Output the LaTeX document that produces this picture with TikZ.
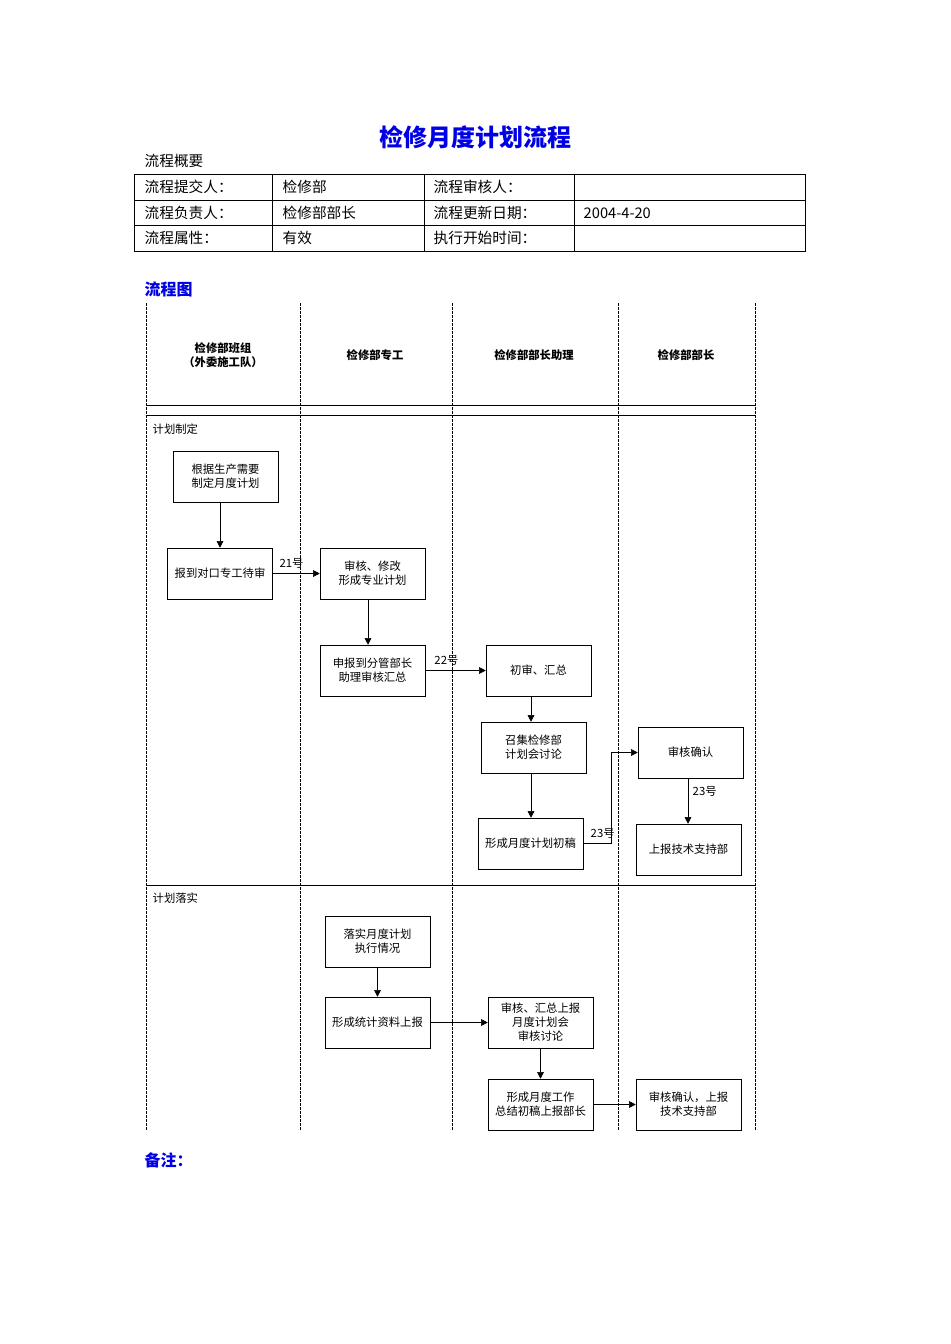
\documentclass[tikz,border=0pt]{standalone}
\usepackage{fontspec}
\setmainfont{Noto Sans CJK SC}
\usetikzlibrary{arrows.meta}
\definecolor{titleblue}{RGB}{0,0,230}
\tikzset{
  box/.style={draw, minimum width=78.75pt, minimum height=38.25pt, inner sep=1pt, align=center, font=\fontsize{8.5}{10.5}\selectfont},
  flow/.style={-{Triangle[length=5pt,width=5pt]}},
  lane/.style={dash pattern=on 2pt off 1pt, line width=0.5pt},
  cell/.style={anchor=west, font=\fontsize{11}{13}\selectfont},
  lbl/.style={font=\fontsize{8.5}{10}\selectfont},
  head/.style={font=\bfseries\fontsize{8.5}{10}\selectfont, align=center}
}
\begin{document}
\begin{tikzpicture}[x=0.75pt,y=-0.75pt]
\useasboundingbox (0,0) rectangle (950,1344);
% title and summary table
\node[titleblue, font=\bfseries\fontsize{18}{20}\selectfont] (title) at (475,137) {检修月度计划流程};
\node[cell] (sum) at (140,161) {流程概要};
\draw (134,174) rectangle (805,251);
\draw (134,200) -- (805,200) (134,225) -- (805,225);
\draw (272,174) -- (272,251) (424,174) -- (424,251) (574,174) -- (574,251);
\node[cell] (t11) at (140,187) {流程提交人：};
\node[cell] (t12) at (278,187) {检修部};
\node[cell] (t13) at (429,187) {流程审核人：};
\node[cell] (t21) at (140,213) {流程负责人：};
\node[cell] (t22) at (278,213) {检修部部长};
\node[cell] (t23) at (429,213) {流程更新日期：};
\node[cell] (t24) at (579,213) {2004-4-20};
\node[cell] (t31) at (140,238) {流程属性：};
\node[cell] (t32) at (278,238) {有效};
\node[cell] (t33) at (429,238) {执行开始时间：};
\node[cell, titleblue, font=\bfseries\fontsize{12}{14}\selectfont] (fig) at (140,289) {流程图};
% swimlanes
\foreach \x in {146,300,452,618,755} \draw[lane] (\x,303) -- (\x,1130);
\draw (146,405) -- (755,405) (146,415) -- (755,415) (146,885) -- (755,885);
\node[head] (h1) at (223,355) {检修部班组\\（外委施工队）};
\node[head] (h2) at (375,355) {检修部专工};
\node[head] (h3) at (534,355) {检修部部长助理};
\node[head] (h4) at (686,355) {检修部部长};
\node[lbl, anchor=west] (p1) at (148,429) {计划制定};
\node[lbl, anchor=west] (p2) at (148,898) {计划落实};
% boxes
\node[box] (b1) at (225.5,476.5) {根据生产需要\\制定月度计划};
\node[box] (b2) at (220,573.5) {报到对口专工待审};
\node[box] (b3) at (372.5,573.5) {审核、修改\\形成专业计划};
\node[box] (b4) at (372.5,670.5) {申报到分管部长\\助理审核汇总};
\node[box] (b5) at (538.5,670.5) {初审、汇总};
\node[box] (b6) at (533.5,747.5) {召集检修部\\计划会讨论};
\node[box] (b7) at (530.5,843.5) {形成月度计划初稿};
\node[box] (b8) at (690.5,752.5) {审核确认};
\node[box] (b9) at (688.5,849.5) {上报技术支持部};
\node[box] (b10) at (377.5,941.5) {落实月度计划\\执行情况};
\node[box] (b11) at (377.5,1022.5) {形成统计资料上报};
\node[box] (b12) at (540.5,1022.5) {审核、汇总上报\\月度计划会\\审核讨论};
\node[box] (b13) at (540.5,1104.5) {形成月度工作\\总结初稿上报部长};
\node[box] (b14) at (688.5,1104.5) {审核确认，上报\\技术支持部};
% connectors
\draw[flow] (b1.south -| 220,0) -- (b2.north);
\draw[flow] (b2) -- node[lbl, above, pos=0.4] {21号} (b3);
\draw[flow] (b3.south -| 368,0) -- (b4.north -| 368,0);
\draw[flow] (b4) -- node[lbl, above, pos=0.35] {22号} (b5);
\draw[flow] (b5.south -| 531,0) -- (b6.north -| 531,0);
\draw[flow] (b6.south -| 531,0) -- (b7.north -| 531,0);
\draw[flow] (b7.east) -- node[lbl, above, pos=0.7] {23号} (611,843.5) |- (b8.west);
\draw[flow] (b8.south -| 688,0) -- node[lbl, right, pos=0.3] {23号} (b9.north -| 688,0);
\draw[flow] (b10) -- (b11);
\draw[flow] (b11) -- (b12);
\draw[flow] (b12) -- (b13);
\draw[flow] (b13) -- (b14);
\node[cell, titleblue, font=\bfseries\fontsize{12}{14}\selectfont] (note) at (140,1160) {备注：};
\end{tikzpicture}
\end{document}
